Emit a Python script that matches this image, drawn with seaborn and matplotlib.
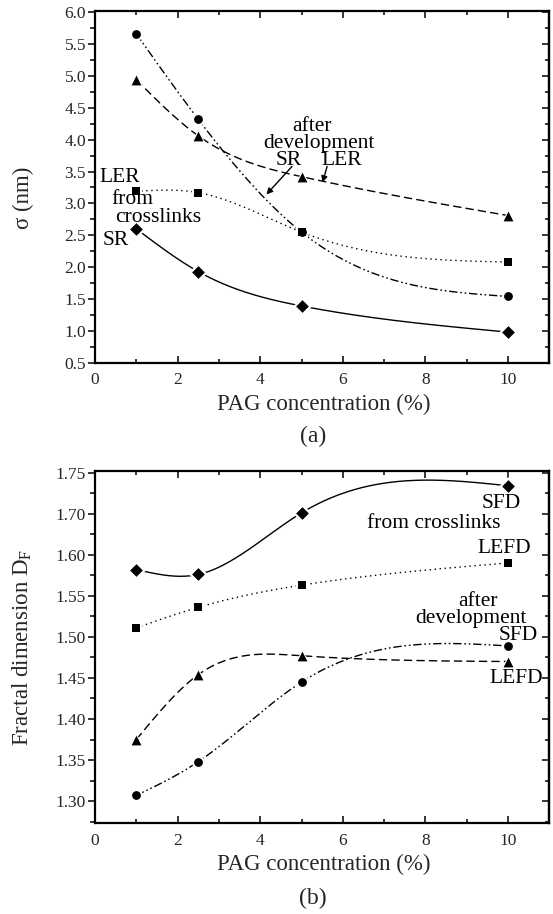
import numpy as np
import pandas as pd
import matplotlib
matplotlib.use("Agg")
import matplotlib.pyplot as plt
import seaborn as sns
from matplotlib.ticker import MultipleLocator, FixedLocator, FixedFormatter

# ---------------- data ----------------
pag = [1.0, 2.5, 5.0, 10.0]

# (a) sigma (nm)
sr_crosslinks = [2.60, 1.93, 1.39, 0.98]
ler_crosslinks = [3.19, 3.17, 2.55, 2.08]
sr_development = [5.66, 4.32, 2.55, 1.54]
ler_development = [4.94, 4.06, 3.42, 2.81]

# (b) fractal dimension (axis positions; tick labels as printed)
sfd_crosslinks = [1.582, 1.576, 1.651, 1.684]
lefd_crosslinks = [1.511, 1.536, 1.563, 1.590]
lefd_development = [1.375, 1.454, 1.477, 1.470]
sfd_development = [1.307, 1.348, 1.445, 1.489]

b_tick_pos = [1.30, 1.35, 1.40, 1.45, 1.50, 1.55, 1.60, 1.65, 1.70]
b_tick_lab = ["1.30", "1.35", "1.40", "1.45", "1.50", "1.55", "1.60", "1.70", "1.75"]

# ---------------- style ----------------
sns.set_style("ticks")
plt.rcParams["font.family"] = ["Liberation Serif", "DejaVu Serif"]
plt.rcParams["mathtext.fontset"] = "custom"
plt.rcParams["mathtext.rm"] = "Liberation Serif"
plt.rcParams["mathtext.it"] = "Liberation Serif:italic"

W, H = 553, 914
fig = plt.figure(figsize=(W / 100, H / 100), dpi=100)

def frac_box(l, t, r, b):
    return [l / W, 1 - b / H, (r - l) / W, (b - t) / H]

ax_a = fig.add_axes(frac_box(95, 11, 549.3, 362.7))
ax_b = fig.add_axes(frac_box(95, 471, 549.3, 823.3))


def natural_spline(x, y, n=300):
    x = np.asarray(x, float)
    y = np.asarray(y, float)
    m = len(x)
    h = np.diff(x)
    A = np.zeros((m, m))
    r = np.zeros(m)
    A[0, 0] = 1
    A[-1, -1] = 1
    for i in range(1, m - 1):
        A[i, i - 1] = h[i - 1]
        A[i, i] = 2 * (h[i - 1] + h[i])
        A[i, i + 1] = h[i]
        r[i] = 6 * ((y[i + 1] - y[i]) / h[i] - (y[i] - y[i - 1]) / h[i - 1])
    M = np.linalg.solve(A, r)
    xs = np.linspace(x[0], x[-1], n)
    idx = np.clip(np.searchsorted(x, xs) - 1, 0, m - 2)
    x0, x1 = x[idx], x[idx + 1]
    hh = x1 - x0
    a = (x1 - xs) / hh
    b = (xs - x0) / hh
    ys = (a * y[idx] + b * y[idx + 1]
          + ((a ** 3 - a) * M[idx] + (b ** 3 - b) * M[idx + 1]) * hh ** 2 / 6)
    return xs, ys


LS_SOLID = "-"
LS_DOT = (0, (1, 2.6))
LS_DASHDOTDOT = (0, (6, 2, 1.2, 2, 1.2, 2))
LS_DASH = (0, (6, 3))

MARK = {"D": 42, "s": 34, "o": 40, "^": 50}


def draw_series(ax, x, y, ls, marker):
    xs, ys = natural_spline(x, y)
    df = pd.DataFrame({"x": xs, "y": ys})
    sns.lineplot(data=df, x="x", y="y", ax=ax, color="black", lw=1.0,
                 linestyle=ls, estimator=None, sort=False, zorder=2)
    s = MARK[marker]
    sns.scatterplot(x=x, y=y, ax=ax, marker=marker, s=s * 2.2, color="white",
                    edgecolor="white", linewidth=0, zorder=3)
    sns.scatterplot(x=x, y=y, ax=ax, marker=marker, s=s, color="black",
                    edgecolor="black", linewidth=0, zorder=4)


draw_series(ax_a, pag, sr_crosslinks, LS_SOLID, "D")
draw_series(ax_a, pag, ler_crosslinks, LS_DOT, "s")
draw_series(ax_a, pag, sr_development, LS_DASHDOTDOT, "o")
draw_series(ax_a, pag, ler_development, LS_DASH, "^")

draw_series(ax_b, pag, sfd_crosslinks, LS_SOLID, "D")
draw_series(ax_b, pag, lefd_crosslinks, LS_DOT, "s")
draw_series(ax_b, pag, lefd_development, LS_DASH, "^")
draw_series(ax_b, pag, sfd_development, LS_DASHDOTDOT, "o")

TICK_FS = 12.5
LAB_FS = 16.5
ANN_FS = 15.5


def style_axes(ax):
    ax.set_xlim(0, 11)
    ax.xaxis.set_major_locator(FixedLocator([0, 2, 4, 6, 8, 10]))
    ax.xaxis.set_minor_locator(FixedLocator([1, 3, 5, 7, 9]))
    for sp in ax.spines.values():
        sp.set_visible(True)
        sp.set_linewidth(1.6)
        sp.set_color("black")
    ax.tick_params(axis="x", which="both", direction="in", top=True,
                   bottom=True, width=1.3, pad=7, labelsize=TICK_FS)
    ax.tick_params(axis="x", which="major", length=5)
    ax.tick_params(axis="x", which="minor", length=3)
    ax.tick_params(axis="y", which="both", direction="out", left=True,
                   right=False, width=1.3, pad=1.5, labelsize=TICK_FS)
    ax.tick_params(axis="y", which="major", length=5)
    ax.tick_params(axis="y", which="minor", length=3.5)
    ax.set_xlabel("PAG concentration (%)", fontsize=LAB_FS, labelpad=0)
    ax.xaxis.set_label_coords(0.503, -0.088)


# ---- panel (a)
style_axes(ax_a)
ax_a.set_ylim(0.5, 6.02)
ax_a.yaxis.set_major_locator(MultipleLocator(0.5))
ax_a.yaxis.set_minor_locator(MultipleLocator(0.25))
ax_a.yaxis.set_major_formatter(matplotlib.ticker.FormatStrFormatter("%.1f"))
ax_a.set_ylabel("σ (nm)", fontsize=LAB_FS)
ax_a.yaxis.set_label_coords(-0.135, 0.47)
sec_a = ax_a.secondary_yaxis("right")
sec_a.yaxis.set_major_locator(MultipleLocator(0.5))
sec_a.yaxis.set_minor_locator(MultipleLocator(0.25))
sec_a.tick_params(which="both", direction="in", labelright=False, width=1.3)
sec_a.tick_params(which="major", length=5)
sec_a.tick_params(which="minor", length=3)
sec_a.spines["right"].set_linewidth(1.6)

# ---- panel (b)
style_axes(ax_b)
ax_b.set_ylim(1.273, 1.702)
ax_b.yaxis.set_major_locator(FixedLocator(b_tick_pos))
ax_b.yaxis.set_major_formatter(FixedFormatter(b_tick_lab))
ax_b.yaxis.set_minor_locator(MultipleLocator(0.025))
ax_b.set_ylabel("Fractal dimension D$_{\\mathrm{F}}$", fontsize=LAB_FS)
ax_b.yaxis.set_label_coords(-0.135, 0.5)
sec_b = ax_b.secondary_yaxis("right")
sec_b.yaxis.set_major_locator(FixedLocator(b_tick_pos))
sec_b.yaxis.set_minor_locator(MultipleLocator(0.025))
sec_b.tick_params(which="both", direction="in", labelright=False, width=1.3)
sec_b.tick_params(which="major", length=5)
sec_b.tick_params(which="minor", length=3)
sec_b.spines["right"].set_linewidth(1.6)

# ---- annotations (a)
kw = dict(fontsize=ANN_FS, ha="center", va="center", color="black")
ax_a.text(5.26, 4.21, "after", **kw)
ax_a.text(5.43, 3.94, "development", **kw)
ax_a.text(4.70, 3.67, "SR", **kw)
ax_a.text(5.98, 3.67, "LER", **kw)
ax_a.annotate("", xy=(4.15, 3.14), xytext=(4.77, 3.58),
              arrowprops=dict(arrowstyle="-|>", color="black", lw=1.0,
                              mutation_scale=9, shrinkA=0, shrinkB=0))
ax_a.annotate("", xy=(5.51, 3.33), xytext=(5.62, 3.58),
              arrowprops=dict(arrowstyle="-|>", color="black", lw=1.0,
                              mutation_scale=9, shrinkA=0, shrinkB=0))
ax_a.text(0.60, 3.41, "LER", **kw)
ax_a.text(0.90, 3.065, "from", **kw)
ax_a.text(1.54, 2.78, "crosslinks", **kw)
ax_a.text(0.51, 2.42, "SR", **kw)

# ---- annotations (b)
ax_b.text(9.83, 1.6626, "SFD", **kw)
ax_b.text(8.21, 1.6384, "from crosslinks", **kw)
ax_b.text(9.91, 1.6082, "LEFD", **kw)
ax_b.text(9.27, 1.5436, "after", **kw)
ax_b.text(9.10, 1.5224, "development", **kw)
ax_b.text(10.26, 1.5015, "SFD", **kw)
ax_b.text(10.21, 1.449, "LEFD", **kw)

# ---- panel captions
fig.text(313 / W, 1 - 436.7 / H, "(a)", fontsize=17, ha="center", va="center")
fig.text(313 / W, 1 - 898 / H, "(b)", fontsize=17, ha="center", va="center")

fig.savefig("out.png", dpi=100)
